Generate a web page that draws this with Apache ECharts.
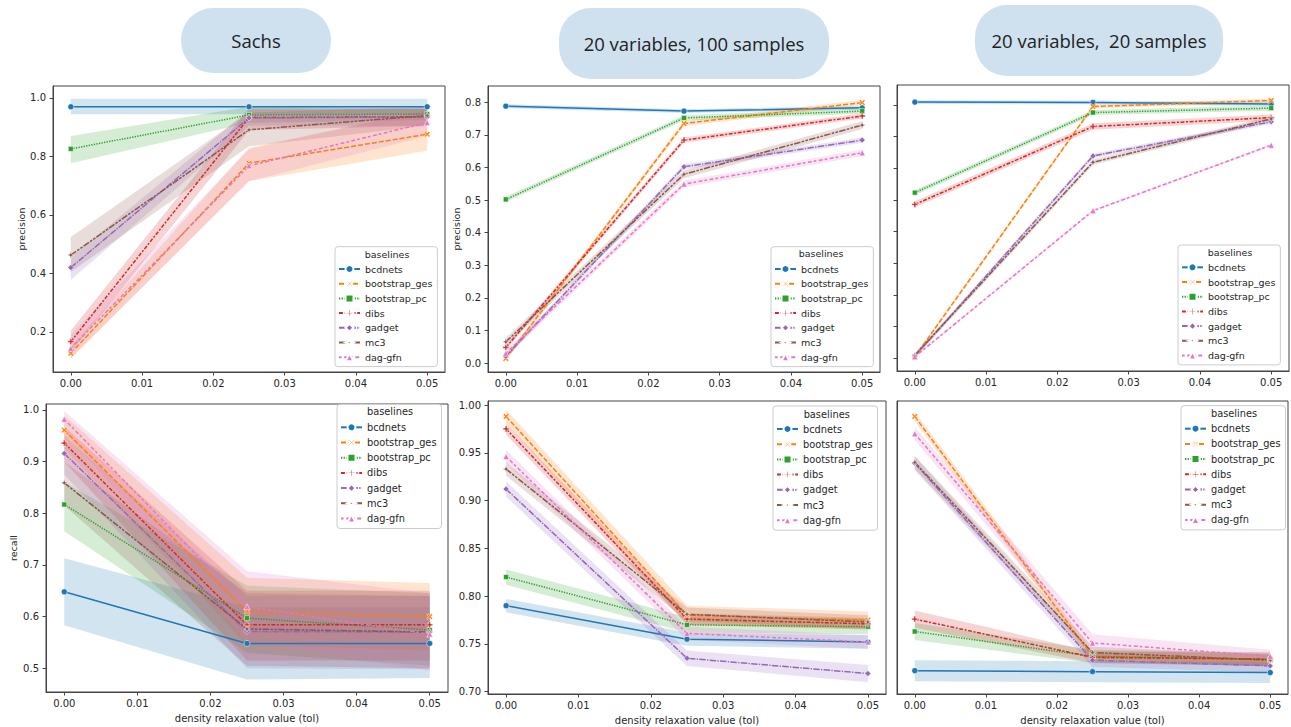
<!DOCTYPE html>
<html>
<head>
<meta charset="utf-8">
<script src="https://cdn.jsdelivr.net/npm/echarts@6/dist/echarts.min.js"></script>
<style>
html, body { margin: 0; padding: 0; background: #fff; }
#chart { width: 1291px; height: 727px; }
</style>
</head>
<body>
<div id="chart"></div>
<script>
const tolValues = [0, 0.025, 0.05];
const baselines = ['bcdnets', 'bootstrap_ges', 'bootstrap_pc', 'dibs', 'gadget', 'mc3', 'dag-gfn'];
const panelTitles = ['Sachs', '20 variables, 100 samples', '20 variables,  20 samples'];
const xTicks = [0, 0.01, 0.02, 0.03, 0.04, 0.05];
const sachsPrecTicks = [0.2, 0.4, 0.6, 0.8, 1.0];
const synthPrecTicks = [0, 0.1, 0.2, 0.3, 0.4, 0.5, 0.6, 0.7, 0.8];
const sachsRecallTicks = [0.5, 0.6, 0.7, 0.8, 0.9, 1.0];
const synthRecallTicks = [0.70, 0.75, 0.80, 0.85, 0.90, 0.95, 1.00];

// rows follow baselines, columns follow tolValues
const sachsPrecMean = [
  [0.970, 0.970, 0.970], [0.127, 0.777, 0.876], [0.826, 0.942, 0.945], [0.167, 0.933, 0.936],
  [0.420, 0.932, 0.935], [0.463, 0.891, 0.940], [0.144, 0.768, 0.916]
];
const sachsPrecLo = [
  [0.944, 0.944, 0.944], [0.108, 0.716, 0.820], [0.777, 0.915, 0.925], [0.130, 0.890, 0.905],
  [0.378, 0.905, 0.905], [0.405, 0.835, 0.905], [0.110, 0.715, 0.870]
];
const sachsPrecHi = [
  [0.997, 0.997, 0.997], [0.150, 0.830, 0.958], [0.870, 0.970, 0.965], [0.205, 0.965, 0.962],
  [0.455, 0.960, 0.962], [0.525, 0.950, 0.970], [0.190, 0.825, 0.960]
];

const n100PrecMean = [
  [0.788, 0.773, 0.783], [0.014, 0.735, 0.799], [0.502, 0.752, 0.773], [0.048, 0.684, 0.758],
  [0.021, 0.602, 0.684], [0.065, 0.579, 0.730], [0.030, 0.549, 0.645]
];
const n100PrecLo = [
  [0.782, 0.767, 0.777], [0.006, 0.727, 0.791], [0.494, 0.744, 0.765], [0.040, 0.676, 0.750],
  [0.013, 0.594, 0.676], [0.053, 0.567, 0.718], [0.020, 0.539, 0.635]
];
const n100PrecHi = [
  [0.794, 0.779, 0.789], [0.022, 0.743, 0.807], [0.510, 0.760, 0.781], [0.056, 0.692, 0.766],
  [0.029, 0.610, 0.692], [0.077, 0.591, 0.742], [0.040, 0.559, 0.655]
];

const n20PrecMean = [
  [0.809, 0.808, 0.803], [0.005, 0.795, 0.814], [0.523, 0.776, 0.790], [0.486, 0.732, 0.760],
  [0.007, 0.639, 0.747], [0.010, 0.619, 0.756], [0.005, 0.466, 0.673]
];
const n20PrecLo = [
  [0.803, 0.802, 0.797], [0.000, 0.789, 0.808], [0.515, 0.768, 0.782], [0.476, 0.722, 0.750],
  [0.001, 0.632, 0.740], [0.002, 0.611, 0.748], [0.001, 0.462, 0.669]
];
const n20PrecHi = [
  [0.815, 0.814, 0.809], [0.011, 0.801, 0.820], [0.531, 0.784, 0.798], [0.496, 0.742, 0.770],
  [0.013, 0.646, 0.754], [0.018, 0.627, 0.764], [0.009, 0.470, 0.677]
];

const sachsRecallMean = [
  [0.648, 0.548, 0.548], [0.961, 0.610, 0.600], [0.817, 0.597, 0.574], [0.936, 0.584, 0.584],
  [0.916, 0.571, 0.570], [0.859, 0.576, 0.570], [0.982, 0.619, 0.566]
];
const sachsRecallLo = [
  [0.583, 0.478, 0.481], [0.925, 0.545, 0.535], [0.765, 0.530, 0.505], [0.900, 0.515, 0.515],
  [0.875, 0.500, 0.498], [0.815, 0.505, 0.500], [0.960, 0.550, 0.495]
];
const sachsRecallHi = [
  [0.713, 0.618, 0.618], [0.990, 0.675, 0.665], [0.860, 0.660, 0.645], [0.968, 0.650, 0.650],
  [0.950, 0.640, 0.640], [0.900, 0.645, 0.640], [0.998, 0.688, 0.645]
];

const n100RecallMean = [
  [0.790, 0.755, 0.752], [0.988, 0.780, 0.775], [0.820, 0.770, 0.768], [0.975, 0.776, 0.771],
  [0.912, 0.735, 0.719], [0.933, 0.781, 0.773], [0.946, 0.761, 0.752]
];
const n100RecallLo = [
  [0.783, 0.748, 0.745], [0.981, 0.770, 0.766], [0.812, 0.762, 0.760], [0.969, 0.770, 0.765],
  [0.904, 0.727, 0.710], [0.926, 0.774, 0.766], [0.939, 0.754, 0.745]
];
const n100RecallHi = [
  [0.797, 0.762, 0.759], [0.995, 0.790, 0.784], [0.828, 0.778, 0.776], [0.981, 0.782, 0.777],
  [0.920, 0.743, 0.728], [0.940, 0.788, 0.780], [0.953, 0.768, 0.759]
];

const n20RecallMean = [
  [0.722, 0.721, 0.720], [0.988, 0.737, 0.733], [0.763, 0.737, 0.734], [0.776, 0.736, 0.734],
  [0.939, 0.733, 0.727], [0.940, 0.741, 0.733], [0.970, 0.751, 0.737]
];
const n20RecallLo = [
  [0.711, 0.710, 0.709], [0.983, 0.731, 0.727], [0.754, 0.730, 0.727], [0.767, 0.730, 0.727],
  [0.932, 0.726, 0.720], [0.933, 0.735, 0.727], [0.963, 0.743, 0.730]
];
const n20RecallHi = [
  [0.733, 0.732, 0.731], [0.993, 0.743, 0.739], [0.772, 0.744, 0.741], [0.785, 0.742, 0.741],
  [0.946, 0.740, 0.734], [0.947, 0.747, 0.739], [0.977, 0.760, 0.744]
];

// styles (seaborn defaults)
const colors = ['#1f77b4', '#ff7f0e', '#2ca02c', '#d62728', '#9467bd', '#8c564b', '#e377c2'];
const dashes = ['solid', [5, 2], [1.3, 1.3], [3.9, 1.6, 2, 1.6], [6.5, 1.3, 1.3, 1.3],
  [6.5, 1.3, 2.6, 1.3, 2.6, 1.3], [2.6, 2.6, 3.9, 2]];
const symbols = [
  'circle',
  'path://M0,2 L2,0 L5,3 L8,0 L10,2 L7,5 L10,8 L8,10 L5,7 L2,10 L0,8 L3,5 Z',
  'rect',
  'path://M3.5,0 H6.5 V3.5 H10 V6.5 H6.5 V10 H3.5 V6.5 H0 V3.5 H3.5 Z',
  'diamond',
  'path://M5,0 L6.3,3.7 L10,5 L6.3,6.3 L5,10 L3.7,6.3 L0,5 L3.7,3.7 Z',
  'triangle'
];
const symSizes = [6, 6, 5, 6, 6, 7, 6];

const panels = [
  { mean: sachsPrecMean, lo: sachsPrecLo, hi: sachsPrecHi,
    grid: { left: 53, top: 86, width: 392, height: 286 }, yMin: 0.063, yMax: 1.041,
    yTicks: sachsPrecTicks, digits: 1, yName: 'precision', yNameGap: 27, xName: '',
    legend: { left: 335, top: 246.7, gap: 4.7, pad: [17.3, 5, 4.4, 3], font: 9.5, title: [387, 254] } },
  { mean: n100PrecMean, lo: n100PrecLo, hi: n100PrecHi,
    grid: { left: 488, top: 86, width: 392, height: 286 }, yMin: -0.0276, yMax: 0.85,
    yTicks: synthPrecTicks, digits: 1, yName: 'precision', yNameGap: 27, xName: '',
    legend: { left: 771, top: 246.7, gap: 4.7, pad: [17.3, 5, 4.4, 3], font: 9.5, title: [821, 253.5] } },
  { mean: n20PrecMean, lo: n20PrecLo, hi: n20PrecHi,
    grid: { left: 897, top: 85, width: 392, height: 286 }, yMin: -0.040, yMax: 0.863,
    yTicks: synthPrecTicks, digits: 1, yName: '', hideLabels: true, xName: '',
    legend: { left: 1178, top: 245, gap: 4.7, pad: [17.3, 5, 4.4, 3], font: 9.5, title: [1230, 252.5] } },
  { mean: sachsRecallMean, lo: sachsRecallLo, hi: sachsRecallHi,
    grid: { left: 46, top: 404, width: 402, height: 288 }, yMin: 0.454, yMax: 1.0116,
    yTicks: sachsRecallTicks, digits: 1, yName: 'recall', yNameGap: 28,
    xName: 'density relaxation value (tol)',
    legend: { left: 337, top: 404.3, gap: 5.2, pad: [18, 5, 5, 3], font: 9.8, title: [390, 411.7] } },
  { mean: n100RecallMean, lo: n100RecallLo, hi: n100RecallHi,
    grid: { left: 488, top: 401, width: 398, height: 293 }, yMin: 0.6976, yMax: 1.0042,
    yTicks: synthRecallTicks, digits: 2, yName: '', xName: 'density relaxation value (tol)',
    legend: { left: 773, top: 406, gap: 5.2, pad: [18, 5, 5, 3], font: 9.8, title: [826.7, 414.3] } },
  { mean: n20RecallMean, lo: n20RecallLo, hi: n20RecallHi,
    grid: { left: 897, top: 401, width: 391, height: 293 }, yMin: 0.6976, yMax: 1.0042,
    yTicks: [], digits: 2, yName: '', hideLabels: true, noTicks: true,
    xName: 'density relaxation value (tol)',
    legend: { left: 1181, top: 405.7, gap: 5.2, pad: [18, 5, 5, 3], font: 9.8, title: [1234, 413.3] } }
];

const pills = [
  { x: 181, y: 8, w: 150, h: 65 },
  { x: 559, y: 8, w: 270, h: 71 },
  { x: 975, y: 5, w: 248, h: 71 }
];

const textColor = '#262626';
const spine = '#444';
const font = 'DejaVu Sans';

const grids = [], xAxes = [], yAxes = [], legends = [], series = [], graphics = [];

// confidence band: one polygon through (tol, lo) and back along (tol, hi)
const bandRenderer = color => (params, api) => {
  const lower = [], upper = [];
  for (let j = 0; j < tolValues.length; j++) {
    const x = api.value(3 * j);
    lower.push(api.coord([x, api.value(3 * j + 1)]));
    upper.push(api.coord([x, api.value(3 * j + 2)]));
  }
  return {
    type: 'polygon',
    shape: { points: lower.concat(upper.reverse()) },
    style: { fill: color, opacity: 0.2 }
  };
};

panels.forEach((p, pi) => {
  grids.push(Object.assign({ show: true, borderColor: spine, borderWidth: 1, backgroundColor: '#fff' }, p.grid));
  xAxes.push({
    type: 'value', gridIndex: pi, min: -0.0025, max: 0.0525,
    name: p.xName, nameLocation: 'middle', nameGap: 21,
    nameTextStyle: { fontSize: 10, color: textColor, fontFamily: font },
    axisLine: { show: true, onZero: false, lineStyle: { color: spine, width: 1 } },
    axisTick: { show: true, length: 3.5, customValues: xTicks, lineStyle: { color: spine } },
    axisLabel: { show: true, margin: 6, fontSize: 10, color: textColor, fontFamily: font,
      customValues: xTicks, formatter: v => v.toFixed(2) },
    splitLine: { show: false }
  });
  yAxes.push({
    type: 'value', gridIndex: pi, min: p.yMin, max: p.yMax,
    name: p.yName, nameLocation: 'middle', nameGap: p.yNameGap || 27,
    nameTextStyle: { fontSize: 9.5, color: textColor, fontFamily: font },
    axisLine: { show: true, onZero: false, lineStyle: { color: spine, width: 1 } },
    axisTick: { show: !p.noTicks, length: 3.5, customValues: p.yTicks, lineStyle: { color: spine } },
    axisLabel: { show: !p.hideLabels, margin: 7, fontSize: 10, color: textColor, fontFamily: font,
      customValues: p.yTicks, formatter: v => v.toFixed(p.digits) },
    splitLine: { show: false }
  });
  legends.push({
    orient: 'vertical', left: p.legend.left, top: p.legend.top,
    data: baselines, selectedMode: false,
    itemWidth: 21, itemHeight: 10, itemGap: p.legend.gap, padding: p.legend.pad,
    backgroundColor: 'rgba(255,255,255,0.85)', borderColor: '#cccccc', borderWidth: 1, borderRadius: 3,
    textStyle: { fontSize: p.legend.font, color: textColor, fontFamily: font }
  });
  graphics.push({
    type: 'text', x: p.legend.title[0], y: p.legend.title[1], z: 100,
    style: { text: 'baselines', fontSize: p.legend.font, fontFamily: font, fill: textColor,
      align: 'center', verticalAlign: 'middle' }
  });

  baselines.forEach((name, bi) => {
    series.push({
      type: 'custom', name: name + ' ci', xAxisIndex: pi, yAxisIndex: pi, silent: true, z: 1,
      renderItem: bandRenderer(colors[bi]),
      encode: { x: [0, 3, 6], y: [1, 2, 4, 5, 7, 8] },
      data: [tolValues.flatMap((t, j) => [t, p.lo[bi][j], p.hi[bi][j]])]
    });
    series.push({
      type: 'line', name: name, xAxisIndex: pi, yAxisIndex: pi, z: 3,
      symbol: symbols[bi], symbolSize: symSizes[bi], showSymbol: true,
      itemStyle: { color: colors[bi], borderColor: '#fff', borderWidth: 0.5 },
      lineStyle: { color: colors[bi], width: 1.5, type: dashes[bi] },
      data: tolValues.map((t, j) => [t, p.mean[bi][j]])
    });
  });
});

pills.forEach((b, i) => {
  graphics.push({
    type: 'rect', z: 10,
    shape: { x: b.x, y: b.y, width: b.w, height: b.h, r: 32 },
    style: { fill: '#cfe1ef' }
  });
  graphics.push({
    type: 'text', z: 11, x: b.x + b.w / 2, y: b.y + b.h / 2,
    style: { text: panelTitles[i], fontSize: 18.5, fontFamily: 'Open Sans', fill: '#222',
      align: 'center', verticalAlign: 'middle' }
  });
});

const chart = echarts.init(document.getElementById('chart'), null, { renderer: 'svg' });
chart.setOption({
  animation: false,
  backgroundColor: '#fff',
  grid: grids,
  xAxis: xAxes,
  yAxis: yAxes,
  legend: legends,
  graphic: graphics,
  series: series
});
window.addEventListener('resize', () => chart.resize());
</script>
</body>
</html>
